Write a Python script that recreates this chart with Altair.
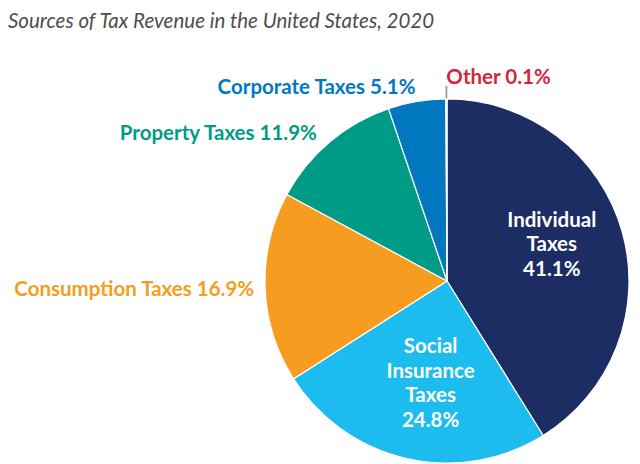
import altair as alt
import pandas as pd

title_text = "Sources of Tax Revenue in the United States, 2020"
categories = ["Individual Taxes", "Social Insurance Taxes", "Consumption Taxes",
              "Property Taxes", "Corporate Taxes", "Other"]
values = [41.1, 24.8, 16.9, 11.9, 5.1, 0.1]
label_text = ["Individual\nTaxes\n41.1%", "Social\nInsurance\nTaxes\n24.8%",
              "Consumption Taxes 16.9%", "Property Taxes 11.9%",
              "Corporate Taxes 5.1%", "Other 0.1%"]
colors = ["#1b2d63", "#1cbcee", "#f69c21", "#009b86", "#0077bf", "#d3263a"]
label_colors = ["#ffffff", "#ffffff", "#f69c21", "#009b86", "#0077bf", "#d3263a"]

total = sum(values)
df = pd.DataFrame({"cat": categories, "value": values, "label": label_text,
                   "idx": list(range(len(categories)))})

CX, CY = 439, 247
FONT = "Lato"

base = alt.Chart(df).transform_window(
    cum="sum(value)", sort=[alt.SortField("idx")]
).transform_calculate(
    start="datum.cum - datum.value", mid="datum.cum - datum.value / 2"
)

theta_scale = alt.Scale(domain=[0, total])

arcs = base.mark_arc(radius=182, stroke="white", strokeWidth=1.2).encode(
    theta=alt.Theta("start:Q", scale=theta_scale),
    theta2="cum:Q",
    color=alt.Color("cat:N", scale=alt.Scale(domain=categories, range=colors), legend=None),
    x=alt.value(CX), y=alt.value(CY),
)

leader = base.transform_filter(alt.datum.cat == "Other").mark_arc(
    radius=195, radius2=183, color="#9a9a9a", stroke="#9a9a9a", strokeWidth=0.6
).encode(
    theta=alt.Theta("start:Q", scale=theta_scale), theta2="cum:Q",
    x=alt.value(CX), y=alt.value(CY),
)

# per-label placement: radius, align, dx, dy
placement = {
    "Individual Taxes": (110, "center", -1, -30),
    "Social Insurance Taxes": (101, "center", 6, -32),
    "Consumption Taxes": (193, "right", 0, 2),
    "Property Taxes": (197, "right", -3, 4),
    "Corporate Taxes": (196, "right", 1, 0),
    "Other": (203, "left", 0, 0),
}

texts = []
for c, col in zip(categories, label_colors):
    r, al, dx, dy = placement[c]
    t = base.transform_filter(alt.datum.cat == c).mark_text(
        radius=r, align=al, baseline="middle", dx=dx, dy=dy,
        font=FONT, fontSize=20.5, fontWeight="bold", color=col,
        lineBreak="\n", lineHeight=24.5,
    ).encode(
        theta=alt.Theta("mid:Q", scale=theta_scale),
        text="label:N",
        x=alt.value(CX), y=alt.value(CY),
    )
    texts.append(t)

title = alt.Chart(pd.DataFrame({"t": [title_text]})).mark_text(
    align="left", baseline="alphabetic", font=FONT, fontSize=20.5,
    fontStyle="italic", fontWeight="normal", color="#4d4d4d",
).encode(text="t:N", x=alt.value(0), y=alt.value(-6.5))

chart = alt.layer(arcs, leader, *texts, title).properties(
    width=624, height=430,
    padding={"top": 26, "left": 0, "right": 0, "bottom": 0},
    autosize=alt.AutoSizeParams(type="none"),
).configure_view(stroke=None)

chart.save("out.html", embed_options={"renderer": "svg", "actions": False})
